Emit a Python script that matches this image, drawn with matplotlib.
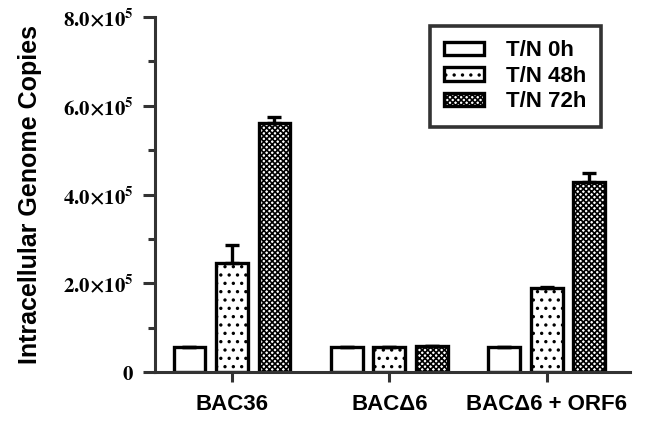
import numpy as np
import matplotlib
matplotlib.use("Agg")
import matplotlib.pyplot as plt
from matplotlib.ticker import FuncFormatter, MultipleLocator

plt.rcParams['mathtext.fontset'] = 'stix'
plt.rcParams['hatch.linewidth'] = 1.2

groups = ['BAC36', 'BAC\u03946', 'BAC\u03946 + ORF6']
series = ['T/N 0h', 'T/N 48h', 'T/N 72h']
vals_0h = [0.56e5, 0.56e5, 0.56e5]
vals_48h = [2.45e5, 0.56e5, 1.89e5]
vals_72h = [5.62e5, 0.58e5, 4.28e5]
err_0h = [0.0, 0.0, 0.0]
err_48h = [0.42e5, 0.01e5, 0.03e5]
err_72h = [0.12e5, 0.01e5, 0.20e5]
y_ticks = [0, 2e5, 4e5, 6e5, 8e5]

fig = plt.figure(figsize=(6.58, 4.21), dpi=100)
ax = fig.add_axes([0.2356, 0.1164, 0.7214, 0.8432])

x = np.arange(len(groups))
w = 0.203
off = 0.27
hatches = ['', '..', 'xxxxxx']
all_vals = [vals_0h, vals_48h, vals_72h]
all_err = [err_0h, err_48h, err_72h]
lw = 2.4
for i, (v, e, h, lab) in enumerate(zip(all_vals, all_err, hatches, series)):
    ax.bar(x + (i - 1) * off, v, w, color='white', edgecolor='black',
           linewidth=lw, hatch=h, label=lab, zorder=2)
    ax.errorbar(x + (i - 1) * off, v, yerr=[np.zeros(3), e], fmt='none',
                ecolor='black', elinewidth=lw, capsize=5, capthick=lw, zorder=3)

ax.set_xlim(-0.489, 2.527)
ax.set_ylim(0, 8e5)
ax.spines['top'].set_visible(False)
ax.spines['right'].set_visible(False)
for s in ['left', 'bottom']:
    ax.spines[s].set_linewidth(2.2)
    ax.spines[s].set_color('#333333')

def fmt(v, pos):
    if v == 0:
        return r'$\mathbf{0}$'
    return r'$\mathbf{%.1f{\times}10^{5}}$' % (v / 1e5)

ax.set_yticks(y_ticks)
ax.yaxis.set_major_formatter(FuncFormatter(fmt))
ax.yaxis.set_minor_locator(MultipleLocator(1e5))
ax.tick_params(axis='y', which='major', length=9, width=2.2, color='#333333',
               labelsize=15, pad=6)
ax.tick_params(axis='y', which='minor', length=5, width=2.2, color='#333333')
ax.set_xticks(x)
ax.set_xticklabels(groups, fontfamily='Liberation Sans', fontweight='bold', fontsize=16)
ax.tick_params(axis='x', length=7, width=2.2, color='#333333', pad=9)

ax.set_ylabel('Intracellular Genome Copies', fontfamily='Liberation Sans',
              fontweight='bold', fontsize=18, labelpad=15)

leg = ax.legend(loc='upper right', bbox_to_anchor=(0.94, 0.975), fancybox=False,
                prop={'family': 'Liberation Sans', 'weight': 'bold', 'size': 16},
                handlelength=1.8, handleheight=0.55, labelspacing=0.2,
                borderpad=0.65, handletextpad=1.0, borderaxespad=0)
leg.get_frame().set_edgecolor('black')
leg.get_frame().set_linewidth(2.6)

fig.savefig('out.png', dpi=100)
